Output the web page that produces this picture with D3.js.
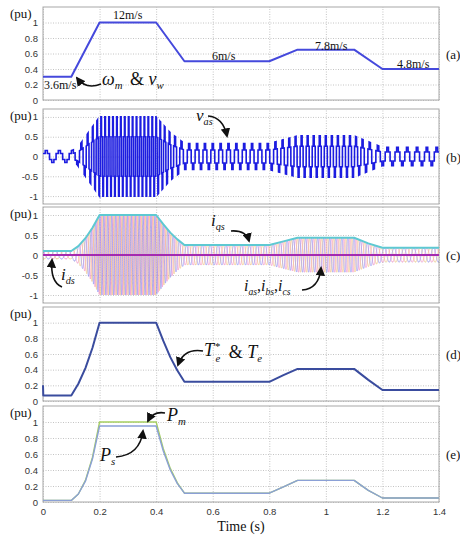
<!DOCTYPE html>
<html>
<head>
<meta charset="utf-8">
<script src="https://cdn.jsdelivr.net/npm/d3@7"></script>
<style>
  body { margin: 0; background: #fff; }
  svg { display: block; }
  .tick text { font-family: "Liberation Sans", Arial, sans-serif; font-size: 9.5px; fill: #333; }
  .serif { font-family: "Liberation Serif", "Times New Roman", serif; fill: #111; }
</style>
</head>
<body>
<div id="chart"></div>
<script>
// time axis
var tDomain = [0, 1.4];
var xTicks = [0, 0.2, 0.4, 0.6, 0.8, 1, 1.2, 1.4];

// (a) rotor speed & wind speed (pu)
var speedT = [0, 0.1, 0.2, 0.4, 0.5, 0.8, 0.9, 1.1, 1.2, 1.4];
var speedV = [0.3, 0.3, 1, 1, 0.5, 0.5, 0.65, 0.65, 0.4, 0.4];

// electrical frequency at 1 pu speed (Hz), read from cycle count in (b)/(c)
var baseFreq = 72;

// (b) v_as envelope (six-step phase voltage)
var vasT = [0, 0.1, 0.12, 0.15, 0.2, 0.4, 0.45, 0.5, 0.8, 0.9, 1.1, 1.2, 1.4];
var vasA = [0.15, 0.15, 0.2, 0.5, 1, 1, 0.6, 0.33, 0.33, 0.52, 0.52, 0.23, 0.23];
var sixStep = [0.5, 1, 0.5, -0.5, -1, -0.5];

// (c) i_qs (= current envelope), i_ds
var iqsT = [0, 0.1, 0.125, 0.15, 0.175, 0.2, 0.4, 0.425, 0.45, 0.475, 0.5, 0.8, 0.85, 0.9, 1.1, 1.15, 1.2, 1.4];
var iqsV = [0.1, 0.1, 0.22, 0.42, 0.68, 1, 1, 0.77, 0.56, 0.39, 0.25, 0.25, 0.34, 0.43, 0.43, 0.29, 0.18, 0.18];
var idsT = [0, 1.4];
var idsV = [0, 0];

// (d) torque reference & torque
var teT = [0, 0.001, 0.1, 0.125, 0.15, 0.175, 0.2, 0.4, 0.425, 0.45, 0.475, 0.5, 0.8, 0.85, 0.9, 1.1, 1.15, 1.2, 1.4];
var teV = [0.2, 0.07, 0.07, 0.22, 0.42, 0.68, 1, 1, 0.77, 0.56, 0.39, 0.245, 0.245, 0.33, 0.41, 0.41, 0.27, 0.14, 0.14];

// (e) mechanical and stator power
var pT  = [0, 0.1, 0.125, 0.15, 0.175, 0.2, 0.4, 0.425, 0.45, 0.475, 0.5, 0.8, 0.85, 0.9, 1.1, 1.15, 1.2, 1.4];
var pmV = [0.02, 0.02, 0.1, 0.27, 0.56, 1, 1, 0.67, 0.42, 0.24, 0.11, 0.11, 0.19, 0.27, 0.27, 0.145, 0.05, 0.05];
var psV = [0.02, 0.02, 0.1, 0.26, 0.54, 0.95, 0.95, 0.64, 0.4, 0.23, 0.11, 0.11, 0.19, 0.27, 0.27, 0.145, 0.05, 0.05];

var yTicksPos = [0, 0.2, 0.4, 0.6, 0.8, 1];
var yTicksSym = [-1, -0.5, 0, 0.5, 1];

var W = 460, H = 541;
var svg = d3.select("#chart").append("svg").attr("width", W).attr("height", H);

var defs = svg.append("defs");
defs.append("marker")
  .attr("id", "arrow").attr("viewBox", "0 0 10 10")
  .attr("refX", 8).attr("refY", 5)
  .attr("markerWidth", 6).attr("markerHeight", 6)
  .attr("orient", "auto")
  .append("path").attr("d", "M0,0L10,5L0,10z").attr("fill", "#111");

var x = d3.scaleLinear().domain(tDomain).range([43, 439]);

// panel vertical positions
var panels = [
  { top: 7,   bottom: 100, dom: [0, 1.2],    ticks: yTicksPos, tag: "(a)" },
  { top: 109, bottom: 204, dom: [-1.2, 1.2], ticks: yTicksSym, tag: "(b)" },
  { top: 207, bottom: 303, dom: [-1.2, 1.2], ticks: yTicksSym, tag: "(c)" },
  { top: 307, bottom: 401, dom: [0, 1.2],    ticks: yTicksPos, tag: "(d)" },
  { top: 406, bottom: 502, dom: [0, 1.2],    ticks: yTicksPos, tag: "(e)" }
];

function interp(ts, vs) {
  return d3.scaleLinear().domain(ts).range(vs).clamp(true);
}

// phase of the electrical quantities follows rotor speed
var speedAt = interp(speedT, speedV);
var dt = 0.0001;
var times = d3.range(0, 1.4 + dt / 2, dt);
var phase = [];
var acc = 0;
times.forEach(function(t) {
  phase.push(acc);
  acc += 2 * Math.PI * baseFreq * speedAt(t) * dt;
});

panels.forEach(function(p, i) {
  p.y = d3.scaleLinear().domain(p.dom).range([p.bottom, p.top]);
  var g = svg.append("g");
  p.g = g;

  // grid
  var yAxis = g.append("g").attr("transform", "translate(" + x.range()[0] + ",0)")
    .call(d3.axisLeft(p.y).tickValues(p.ticks).tickSize(-(x.range()[1] - x.range()[0]))
      .tickPadding(5).tickFormat(function(d) { return String(d); }));
  yAxis.select(".domain").remove();
  yAxis.selectAll(".tick line").attr("stroke", "#c4c4c4").attr("stroke-dasharray", "1,1.5");

  var xAxis = g.append("g").attr("transform", "translate(0," + p.bottom + ")")
    .call(d3.axisBottom(x).tickValues(xTicks).tickSize(-(p.bottom - p.top))
      .tickPadding(6).tickFormat(function(d) { return String(d); }));
  xAxis.select(".domain").remove();
  xAxis.selectAll(".tick line").attr("stroke", "#c4c4c4").attr("stroke-dasharray", "1,1.5");
  if (i < 4) xAxis.selectAll("text").remove();

  g.append("rect")
    .attr("x", x.range()[0]).attr("y", p.top)
    .attr("width", x.range()[1] - x.range()[0]).attr("height", p.bottom - p.top)
    .attr("fill", "none").attr("stroke", "#a8a8a8");

  g.append("text").attr("class", "serif")
    .attr("x", 10).attr("y", p.top + 11).attr("font-size", 13).text("(pu)");
  g.append("text").attr("class", "serif")
    .attr("x", 446).attr("y", (p.top + p.bottom) / 2 + 5).attr("font-size", 13).text(p.tag);
});

function drawLine(p, ts, vs, color, width) {
  var line = d3.line().x(function(d) { return x(d[0]); }).y(function(d) { return p.y(d[1]); });
  p.g.append("path").datum(d3.zip(ts, vs))
    .attr("d", line).attr("fill", "none")
    .attr("stroke", color).attr("stroke-width", width)
    .attr("stroke-linejoin", "round");
}

// clip for waveforms
panels.forEach(function(p, i) {
  defs.append("clipPath").attr("id", "clip" + i).append("rect")
    .attr("x", x.range()[0]).attr("y", p.top)
    .attr("width", x.range()[1] - x.range()[0]).attr("height", p.bottom - p.top);
});

// (a)
drawLine(panels[0], speedT, speedV, "#4549dc", 2);

// (b) six-step phase voltage
var vasAt = interp(vasT, vasA);
var vasVals = times.map(function(t, i) {
  var k = Math.floor(phase[i] / (Math.PI / 3)) % 6;
  return vasAt(t) * sixStep[k];
});
var pb = panels[1];
pb.g.append("path").datum(times)
  .attr("clip-path", "url(#clip1)")
  .attr("d", d3.line().x(function(d) { return x(d); }).y(function(d, i) { return pb.y(vasVals[i]); }))
  .attr("fill", "none").attr("stroke", "#1c1ce0").attr("stroke-width", 1.6);

// (c) three-phase currents
var pc = panels[2];
var iqsAt = interp(iqsT, iqsV);
var phaseColors = ["#f48cc4", "#f2c27e", "#8f8ff2"];
[0, -2 * Math.PI / 3, 2 * Math.PI / 3].forEach(function(sh, k) {
  pc.g.append("path").datum(times)
    .attr("clip-path", "url(#clip2)")
    .attr("d", d3.line().x(function(d) { return x(d); })
      .y(function(d, i) { return pc.y(iqsAt(d) * Math.sin(phase[i] + sh)); }))
    .attr("fill", "none").attr("stroke", phaseColors[k]).attr("stroke-width", 0.8)
    .attr("stroke-opacity", 0.85);
});
drawLine(pc, iqsT, iqsV, "#5ec9d2", 2);
drawLine(pc, idsT, idsV, "#a42ab0", 2);

// (d)
drawLine(panels[3], teT, teV, "#3a4c9e", 2);

// (e)
drawLine(panels[4], pT, pmV, "#a6cf62", 1.4);
drawLine(panels[4], pT, psV, "#8ba0d6", 1.4);

// x axis title
svg.append("text").attr("class", "serif")
  .attr("x", 241).attr("y", 531).attr("text-anchor", "middle")
  .attr("font-size", 14).text("Time (s)");

// annotations
function label(txt, px, py, size) {
  svg.append("text").attr("class", "serif")
    .attr("x", px).attr("y", py).attr("font-size", size || 12).text(txt);
}
function mathLabel(parts, px, py, size) {
  // parts: [text, kind, dy, dx] with kind "n" normal, "i" italic, "sub", "sup"
  var t = svg.append("text").attr("class", "serif")
    .attr("x", px).attr("y", py).attr("font-size", size);
  parts.forEach(function(pt) {
    var s = t.append("tspan").text(pt[0]);
    if (pt[1] === "i") s.attr("font-style", "italic");
    if (pt[1] === "sub") s.attr("font-style", "italic").attr("font-size", size * 0.6).attr("dy", 4);
    if (pt[1] === "sup") s.attr("font-size", size * 0.6).attr("dy", -8);
    if (pt[2]) s.attr("dy", pt[2]);
    if (pt[3]) s.attr("dx", pt[3]);
  });
}
function arrow(d) {
  svg.append("path").attr("d", d).attr("fill", "none")
    .attr("stroke", "#111").attr("stroke-width", 1.6)
    .attr("marker-end", "url(#arrow)");
}

label("12m/s", 113, 19);
label("3.6m/s", 44, 89);
label("6m/s", 212, 60);
label("7.8m/s", 315, 50);
label("4.8m/s", 397, 68);

mathLabel([["ω", "i"], ["m", "sub"], [" & ", "n", -4, 3], ["v", "i"], ["w", "sub", 4]], 102, 85, 18);
arrow("M101,84 Q86,90 77,78");

mathLabel([["v", "i"], ["as", "sub"]], 196, 121, 17);
arrow("M208,116 Q223,117 227,136");

mathLabel([["i", "i"], ["qs", "sub"]], 211, 226, 17);
arrow("M231,231 Q246,230 249,241");

mathLabel([["i", "i"], ["ds", "sub"]], 61, 280, 17);
arrow("M62,287 Q50,282 52,260");

mathLabel([["i", "i"], ["as", "sub"], [",", "n", -4], ["i", "i"], ["bs", "sub", 4], [",", "n", -4], ["i", "i"], ["cs", "sub", 4]], 244, 291, 16);
arrow("M302,290 Q319,289 321,268");

mathLabel([["T", "i"], ["*", "sup", -6, 1], ["e", "sub", 12, -5], [" & ", "n", -4, 4], ["T", "i"], ["e", "sub"]], 204, 356, 18);
arrow("M203,351 Q184,348 178,365");

mathLabel([["P", "i"], ["m", "sub"]], 167, 421, 18);
arrow("M165,413 Q153,411 148,421");

mathLabel([["P", "i"], ["s", "sub"]], 100, 461, 18);
arrow("M116,457 Q140,455 143,431");
</script>
</body>
</html>
